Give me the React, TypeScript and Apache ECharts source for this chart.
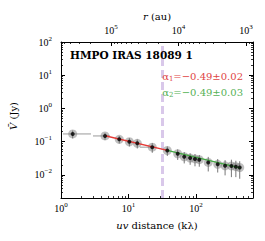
import React, { useEffect, useRef } from 'react';
import * as echarts from 'echarts';

// uv distance (kλ) of binned points
const uvDist = [1.49, 4.49, 7.3, 10.3, 13.5, 22.5, 37.6, 53.6, 67, 82, 96.7, 112, 152, 210, 270, 335, 390, 445];
// averaged visibility amplitude (Jy)
const amp = [0.17, 0.148, 0.117, 0.099, 0.089, 0.068, 0.054, 0.043, 0.035, 0.032, 0.030, 0.0285, 0.0236, 0.0207, 0.0186, 0.0185, 0.0175, 0.0166];
const ampErr = [0.045, 0.035, 0.03, 0.028, 0.027, 0.022, 0.017, 0.015, 0.013, 0.012, 0.012, 0.011, 0.011, 0.009, 0.009, 0.01, 0.009, 0.009];
// bin edges
const uvLo = [1.07, 2.98, 6.9, 9.7, 12.7, 14.8, 35.5, 50.5, 63, 77, 91, 106, 144, 198, 255, 316, 368, 420];
const uvHi = [2.78, 5.3, 7.7, 10.9, 14.3, 24.8, 39.8, 56.8, 71, 87, 102, 118, 160, 222, 285, 354, 412, 470];

// fitted power laws (endpoints)
const fit1 = [[4.5, 0.150], [37.6, 0.054]];
const fit2 = [[37.6, 0.054], [460, 0.0158]];
const breakUv = 32;

const xMajor = [1, 10, 100];
const yMajor = [0.01, 0.1, 1, 10, 100];
const rMajor = [1000, 10000, 100000];
const R_CONV = 5.5e5; // r(au) * uv(kλ)

const X_MIN = 1, X_MAX = 700, Y_MIN = 0.002, Y_MAX = 100;

function minorTicks(lo: number, hi: number) {
  const out: number[] = [];
  for (let e = -4; e <= 6; e++) {
    for (let m = 2; m <= 9; m++) {
      const v = m * Math.pow(10, e);
      if (v > lo && v < hi) out.push(v);
    }
  }
  return out;
}

const FONT = 'DejaVu Serif';
const TICKFONT = 'Liberation Serif';

const sup = (v: number) => {
  const e = Math.round(Math.log10(v));
  return `{b|10}{s|${e < 0 ? '\u2212' + -e : e}}`;
};
const rich = {
  b: { fontFamily: TICKFONT, fontSize: 10, color: '#000' },
  s: { fontFamily: TICKFONT, fontSize: 7, color: '#000', padding: [0, 0, 7, 0] },
};

export default function App() {
  const ref = useRef<HTMLDivElement>(null);
  useEffect(() => {
    if (!ref.current) return;
    const chart = echarts.init(ref.current, null, { renderer: 'svg' });
    const rMin = R_CONV / X_MAX, rMax = R_CONV / X_MIN;
    const axLine = { show: true, lineStyle: { color: '#000', width: 1 } };
    const majorTick = (vals: number[]) => ({ show: true, inside: true, length: 4, customValues: vals, lineStyle: { color: '#000', width: 1 } });
    const minorTick = (vals: number[]) => ({ show: true, inside: true, length: 2, customValues: vals, lineStyle: { color: '#000', width: 0.8 } });
    const base = { type: 'log' as const, splitLine: { show: false } };

    const option: any = {
      animation: false,
      grid: { left: 61, right: 12, top: 42, bottom: 43, containLabel: false },
      xAxis: [
        { ...base, position: 'bottom', min: X_MIN, max: X_MAX, axisLine: axLine, axisTick: majorTick(xMajor),
          axisLabel: { customValues: xMajor, formatter: sup, rich, margin: 3 } },
        { ...base, position: 'bottom', min: X_MIN, max: X_MAX, axisLine: { show: false }, axisTick: minorTick(minorTicks(X_MIN, X_MAX)), axisLabel: { show: false } },
        { ...base, position: 'top', inverse: true, min: rMin, max: rMax, axisLine: axLine, axisTick: majorTick(rMajor),
          axisLabel: { customValues: rMajor, formatter: sup, rich, margin: 5 } },
        { ...base, position: 'top', inverse: true, min: rMin, max: rMax, axisLine: { show: false }, axisTick: minorTick(minorTicks(rMin, rMax)), axisLabel: { show: false } },
      ],
      yAxis: [
        { ...base, position: 'left', min: Y_MIN, max: Y_MAX, axisLine: axLine, axisTick: majorTick(yMajor),
          axisLabel: { customValues: yMajor, formatter: sup, rich, margin: 9 } },
        { ...base, position: 'left', min: Y_MIN, max: Y_MAX, axisLine: { show: false }, axisTick: minorTick(minorTicks(Y_MIN, Y_MAX)), axisLabel: { show: false } },
        { ...base, position: 'right', min: Y_MIN, max: Y_MAX, axisLine: axLine, axisTick: majorTick(yMajor), axisLabel: { show: false } },
        { ...base, position: 'right', min: Y_MIN, max: Y_MAX, axisLine: { show: false }, axisTick: minorTick(minorTicks(Y_MIN, Y_MAX)), axisLabel: { show: false } },
      ],
      series: [
        {
          type: 'custom', xAxisIndex: 0, yAxisIndex: 0, z: 2,
          data: uvDist.map((u, i) => [u, amp[i], ampErr[i], uvLo[i], uvHi[i]]),
          encode: { x: 0, y: 1 },
          renderItem: (_p: any, api: any) => {
            const x = api.value(0), y = api.value(1), e = api.value(2), lo = api.value(3), hi = api.value(4);
            const t = api.coord([x, y + e]);
            const b = api.coord([x, Math.max(y - e, 1e-5)]);
            const l = api.coord([lo, y]);
            const r = api.coord([hi, y]);
            return {
              type: 'group',
              children: [
                { type: 'line', shape: { x1: l[0], y1: l[1], x2: r[0], y2: r[1] }, style: { stroke: '#999', lineWidth: 1 } },
                { type: 'line', shape: { x1: t[0], y1: t[1], x2: b[0], y2: b[1] }, style: { stroke: '#777', lineWidth: 1 } },
              ],
            };
          },
          silent: true,
        },
        {
          type: 'scatter', xAxisIndex: 0, yAxisIndex: 0, z: 3, symbol: 'circle', symbolSize: 9,
          itemStyle: { color: 'rgba(110,110,110,0.55)' },
          data: uvDist.map((u, i) => [u, amp[i]]), silent: true,
          markLine: {
            silent: true, symbol: 'none', label: { show: false }, z: 1,
            lineStyle: { color: '#d9c8ea', width: 3, type: [8, 4] },
            data: [{ xAxis: breakUv }],
          },
        },
        { type: 'line', xAxisIndex: 0, yAxisIndex: 0, z: 4, data: fit1, showSymbol: false, symbol: 'none', lineStyle: { color: '#e53935', width: 1.3 }, silent: true },
        { type: 'line', xAxisIndex: 0, yAxisIndex: 0, z: 4, data: fit2, showSymbol: false, symbol: 'none', lineStyle: { color: '#43a843', width: 1.3 }, silent: true },
        {
          type: 'scatter', xAxisIndex: 0, yAxisIndex: 0, z: 5, symbol: 'circle', symbolSize: 4,
          itemStyle: { color: '#000' }, data: uvDist.map((u, i) => [u, amp[i]]), silent: true,
        },
      ],
      graphic: [
        { type: 'text', z: 100, x: 70, y: 55, style: { text: 'HMPO IRAS 18089 1', font: `bold 10.5px "${FONT}"`, fill: '#000', verticalAlign: 'middle', align: 'left' } },
        { type: 'text', z: 100, x: 243, y: 76, style: {
          text: '{a|α}{u|1}{a|=−0.49±0.02}', align: 'right', verticalAlign: 'middle',
          rich: { a: { fontFamily: FONT, fontSize: 10, fill: '#e04545' }, u: { fontFamily: FONT, fontSize: 7, fill: '#e04545', padding: [5, 0, 0, 0] } } } },
        { type: 'text', z: 100, x: 243, y: 92, style: {
          text: '{a|α}{u|2}{a|=−0.49±0.03}', align: 'right', verticalAlign: 'middle',
          rich: { a: { fontFamily: FONT, fontSize: 10, fill: '#55b155' }, u: { fontFamily: FONT, fontSize: 7, fill: '#55b155', padding: [5, 0, 0, 0] } } } },
        { type: 'text', z: 100, x: 157, y: 16, style: {
          text: '{i|r}{a| (au)}', align: 'center', verticalAlign: 'middle',
          rich: { i: { fontFamily: FONT, fontSize: 10, fontStyle: 'italic', fill: '#000' }, a: { fontFamily: FONT, fontSize: 10, fill: '#000' } } } },
        { type: 'text', z: 100, x: 157, y: 225, style: {
          text: '{i|uv}{a| distance (kλ)}', align: 'center', verticalAlign: 'middle',
          rich: { i: { fontFamily: FONT, fontSize: 10, fontStyle: 'italic', fill: '#000' }, a: { fontFamily: FONT, fontSize: 10, fill: '#000' } } } },
        { type: 'text', z: 100, x: 13, y: 116, rotation: Math.PI / 2, style: {
          text: '{i|V̄}{a| (Jy)}', align: 'center', verticalAlign: 'middle',
          rich: { i: { fontFamily: FONT, fontSize: 10, fontStyle: 'italic', fill: '#000' }, a: { fontFamily: FONT, fontSize: 10, fill: '#000' } } } },
      ],
    };
    chart.setOption(option);
    return () => chart.dispose();
  }, []);
  return <div ref={ref} style={{ position: 'fixed', left: 0, top: 0, width: 265, height: 241, background: '#fff' }} />;
}
